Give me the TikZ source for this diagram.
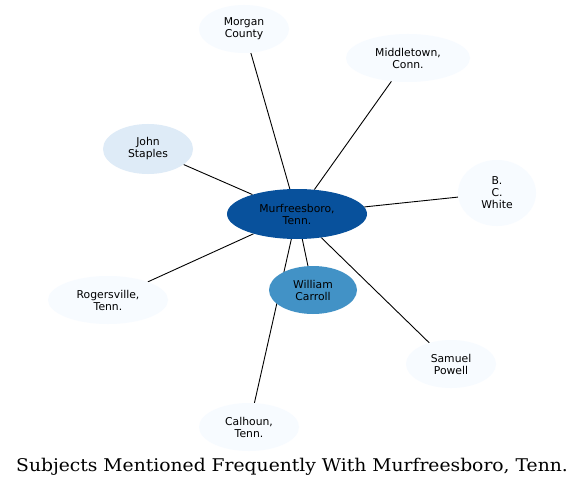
\documentclass[tikz,border=0pt]{standalone}
\usepackage{fontspec}
\setmainfont{DejaVu Sans}
\newfontfamily\titlefont{DejaVu Serif}
\usetikzlibrary{shapes.geometric,backgrounds}
\definecolor{hub}{HTML}{08519C}
\definecolor{mid}{HTML}{4292C6}
\definecolor{lite}{HTML}{DEEBF7}
\definecolor{pale}{HTML}{F7FBFF}
\tikzset{
  ent/.style={ellipse, inner sep=0pt, align=center, font=\fontsize{10.8}{12}\selectfont, text=black},
  link/.style={draw=black, line width=0.9pt}
}
\begin{document}
\begin{tikzpicture}[x=1pt,y=1pt]
\useasboundingbox (0,0) rectangle (585,488);
\node[ent, fill=hub, minimum width=140pt, minimum height=50pt] (murf) at (297,274) {Murfreesboro,\\Tenn.};
\node[ent, fill=mid, minimum width=88pt, minimum height=48pt] (carroll) at (313,198) {William\\Carroll};
\node[ent, fill=pale, minimum width=90pt, minimum height=48pt] (morgan) at (244,459) {Morgan\\County};
\node[ent, fill=pale, minimum width=124pt, minimum height=48pt] (middle) at (408,430) {Middletown,\\Conn.};
\node[ent, fill=lite, minimum width=90pt, minimum height=50pt] (staples) at (148,339) {John\\Staples};
\node[ent, fill=pale, minimum width=78pt, minimum height=66pt] (white) at (497,295) {B.\\C.\\White};
\node[ent, fill=pale, minimum width=120pt, minimum height=48pt] (rogers) at (108,188) {Rogersville,\\Tenn.};
\node[ent, fill=pale, minimum width=90pt, minimum height=48pt] (powell) at (451,124) {Samuel\\Powell};
\node[ent, fill=pale, minimum width=100pt, minimum height=48pt] (calhoun) at (249,61) {Calhoun,\\Tenn.};
\node[font=\titlefont\fontsize{17.5}{20}\selectfont, inner sep=0pt, anchor=base] (title) at (292,17) {\scalebox{1.07}[1]{Subjects Mentioned Frequently With Murfreesboro, Tenn.}};
\begin{pgfonlayer}{background}
\fill[white] (0,0) rectangle (585,488);
\draw[link] (murf) -- (carroll);
\draw[link] (murf) -- (morgan);
\draw[link] (murf) -- (middle);
\draw[link] (murf) -- (staples);
\draw[link] (murf) -- (white);
\draw[link] (murf) -- (rogers);
\draw[link] (murf) -- (powell);
\draw[link] (murf) -- (calhoun);
\end{pgfonlayer}
\end{tikzpicture}
\end{document}
